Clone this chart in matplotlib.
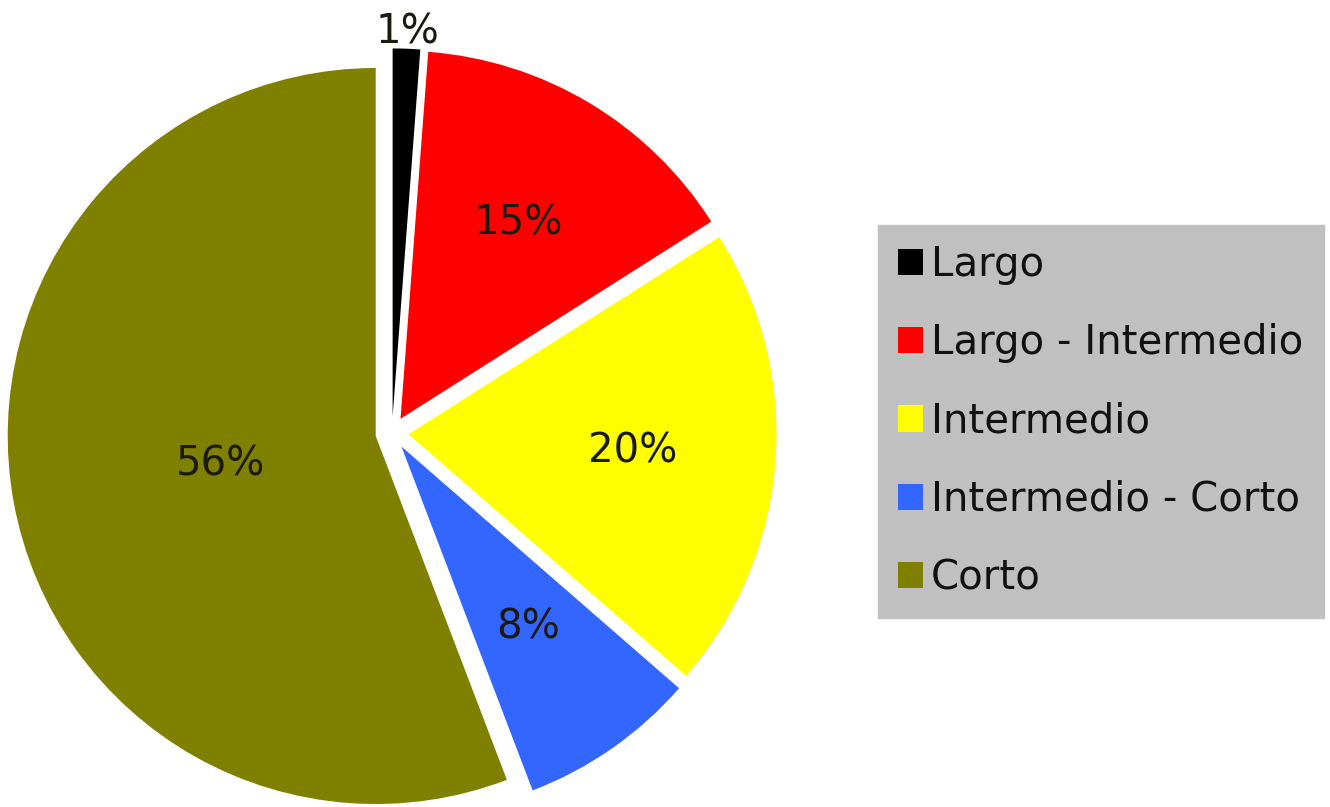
import numpy as np
import matplotlib
matplotlib.use('Agg')
import matplotlib.pyplot as plt

# datos del grafico (porcentaje por categoria)
categorias = ['Largo', 'Largo - Intermedio', 'Intermedio', 'Intermedio - Corto', 'Corto']
valores = [1.2, 14.8, 20.4, 7.8, 55.8]
colores = ['#000000', '#ff0000', '#ffff00', '#3366ff', '#808000']

W, H = 1330, 807
fig = plt.figure(figsize=(W / 100, H / 100), dpi=100)

# ejes en pixeles: centro (392, 433), radio 368 px
cx, cy, r = 392, H - 433, 368
L = 1.2
side = 2 * L * r
ax = fig.add_axes([(cx - side / 2) / W, (cy - side / 2) / H, side / W, side / H])

explode = [0.045] * len(valores)
wedges, autotexts = ax.pie(valores, colors=colores, explode=explode,
                           startangle=90, counterclock=False,
                           autopct='%1.0f%%', pctdistance=0.62,
                           wedgeprops=dict(linewidth=0),
                           textprops=dict(fontsize=29, color='#1a1a10'))[0::2]

# distancia de cada etiqueta (1% fuera, 56% mas al centro)
dist = [1.045, 0.62, 0.61, 0.60, 0.43]
for w, t, d, e in zip(wedges, autotexts, dist, explode):
    mid = np.deg2rad((w.theta1 + w.theta2) / 2)
    t.set_position(((d + e) * np.cos(mid), (d + e) * np.sin(mid)))

ax.set_xlim(-L, L)
ax.set_ylim(-L, L)
ax.set_aspect('auto')

leg = fig.legend(wedges, categorias, loc='upper left',
                 bbox_to_anchor=(878 / W, 1 - 225 / H),
                 fontsize=29, frameon=True, fancybox=False,
                 facecolor='#c0c0c0', edgecolor='#c0c0c0', framealpha=1,
                 handlelength=0.62, handleheight=0.62, handletextpad=0.2,
                 labelspacing=0.95, borderpad=0.5, borderaxespad=0)
for t in leg.get_texts():
    t.set_color('#111111')

fig.savefig('out.png', dpi=100, facecolor='white')
